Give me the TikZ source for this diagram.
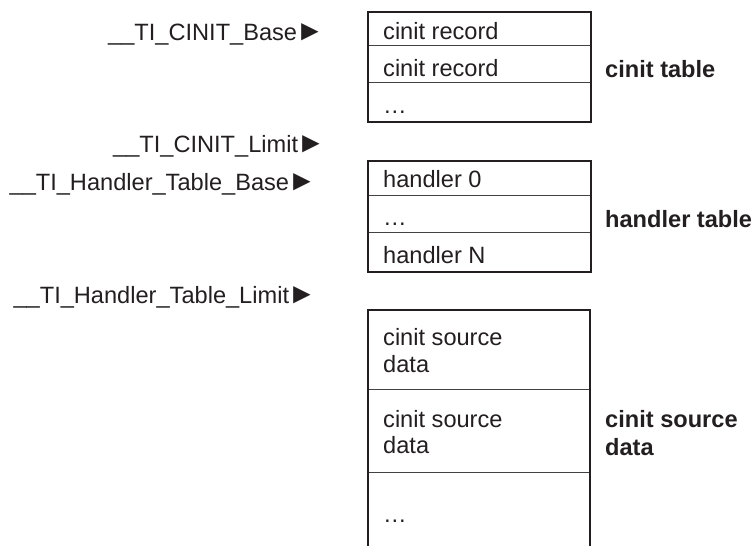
\documentclass[tikz,border=0pt]{standalone}
\usepackage{fontspec}
\setmainfont{Liberation Sans}
\definecolor{ink}{HTML}{231F20}
\newcommand{\tri}{\kern-1.5pt{\fontsize{29}{29}\selectfont ►}\kern-1.5pt}
\begin{document}
\begin{tikzpicture}[x=1pt,y=-1pt,
  txt/.style={inner sep=0pt,anchor=base west,text=ink,font=\fontsize{23.6}{27}\selectfont},
  lbl/.style={inner sep=0pt,anchor=base west,text=ink,font=\fontsize{23.6}{27}\selectfont\bfseries},
  ptr/.style={inner sep=0pt,anchor=base east,text=ink,font=\fontsize{23.6}{27}\selectfont},
  outer/.style={draw=ink,line width=1.6pt},
  divider/.style={draw=ink!85,line width=0.9pt}]
\useasboundingbox (0,0) rectangle (753,546);
% cinit table
\draw[divider] (368,45) -- (591,45) (368,82) -- (591,82);
\draw[outer] (368,12) rectangle (591,122);
\node[txt] (r1) at (383,39) {cinit record};
\node[txt] (r2) at (383,76) {cinit record};
\node[txt] (r3) at (383,113) {\ldots};
\node[lbl] (ct) at (605,77) {cinit table};
% handler table
\draw[divider] (368,195) -- (591,195) (368,232) -- (591,232);
\draw[outer] (368,161) rectangle (591,272);
\node[txt] (h0) at (383,187) {handler 0};
\node[txt] (h1) at (383,225) {\ldots};
\node[txt] (hn) at (383,263) {handler N};
\node[lbl] (ht) at (605,227) {handler table};
% cinit source data
\draw[divider] (368,389) -- (590,389) (368,472) -- (590,472);
\draw[outer] (368,548) -- (368,310) -- (590,310) -- (590,548);
\node[txt] (s1a) at (383,345) {cinit source};
\node[txt] (s1b) at (383,372) {data};
\node[txt] (s2a) at (383,427) {cinit source};
\node[txt] (s2b) at (383,453) {data};
\node[txt] (s3) at (383,522) {\ldots};
\node[lbl] (sda) at (605,427) {cinit source};
\node[lbl] (sdb) at (605,455) {data};
% pointers
\node[ptr] (p1) at (323,40) {\_\_TI\_CINIT\_Base\tri};
\node[ptr] (p2) at (324,152) {\_\_TI\_CINIT\_Limit\tri};
\node[ptr] (p3) at (315,190) {\_\_TI\_Handler\_Table\_Base\tri};
\node[ptr] (p4) at (315,303) {\_\_TI\_Handler\_Table\_Limit\tri};
\end{tikzpicture}
\end{document}
